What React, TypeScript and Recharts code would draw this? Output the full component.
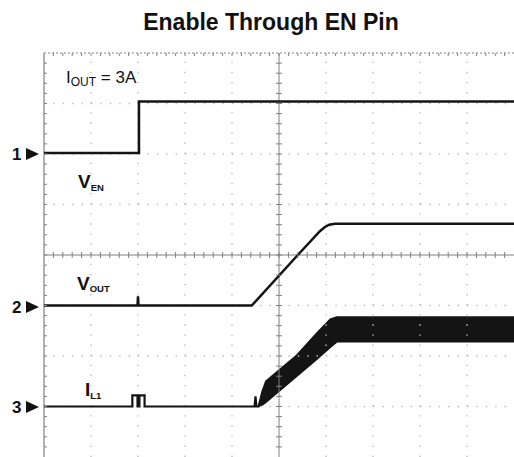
import { ComposedChart, Line, Area, Scatter, XAxis, YAxis, ReferenceLine } from 'recharts';

// scope screen: 10 x 8 divisions, x = time (div), y = volts (div)
const W = 514;
const H = 457;

// CH1 - V_EN
const enTrace = [
  { x: 0, y: 2.02 },
  { x: 2.02, y: 2.02 },
  { x: 2.02, y: 3.04 },
  { x: 10, y: 3.04 },
];

// CH2 - V_OUT
const outTrace = [
  { x: 0, y: -1 },
  { x: 1.99, y: -1 },
  { x: 2.0, y: -0.82 },
  { x: 2.01, y: -1 },
  { x: 4.42, y: -1 },
  { x: 5.4, y: 0 },
  { x: 5.87, y: 0.47 },
  { x: 5.97, y: 0.55 },
  { x: 6.07, y: 0.6 },
  { x: 6.19, y: 0.62 },
  { x: 10, y: 0.62 },
];

// CH3 - I_L1 (baseline before switching starts)
const ilTrace = [
  { x: 0, y: -3 },
  { x: 1.88, y: -3 },
  { x: 1.88, y: -2.78 },
  { x: 1.99, y: -2.78 },
  { x: 1.99, y: -3 },
  { x: 2.03, y: -3 },
  { x: 2.03, y: -2.78 },
  { x: 2.14, y: -2.78 },
  { x: 2.14, y: -3 },
  { x: 4.48, y: -3 },
  { x: 4.5, y: -2.8 },
  { x: 4.52, y: -3 },
  { x: 4.58, y: -3 },
];

// CH3 ripple envelope [low, high]
const ilBand = [
  { x: 4.56, band: [-3.0, -3.0] },
  { x: 4.64, band: [-2.97, -2.7] },
  { x: 4.72, band: [-2.92, -2.5] },
  { x: 5.38, band: [-2.4, -1.98] },
  { x: 5.8, band: [-2.07, -1.55] },
  { x: 6.09, band: [-1.83, -1.27] },
  { x: 6.23, band: [-1.72, -1.23] },
  { x: 10, band: [-1.72, -1.23] },
];

const xGrid = [1, 2, 3, 4, 6, 7, 8, 9];
const yGrid = [-3, -2, -1, 1, 2, 3];

const minorX = Array.from({ length: 49 }, (_, i) => Math.round((i + 1) * 2) / 10);
const minorY = Array.from({ length: 39 }, (_, i) => Math.round((i + 1) * 2 - 40) / 10);

const axisXTicks = minorX.map((x) => ({ x, y: 0 }));
const axisYTicks = minorY.map((y) => ({ x: 5, y }));
const topTicks = minorX.map((x) => ({ x, y: 4 }));
const leftTicks = minorY.map((y) => ({ x: 0, y }));

const GRID = '#bdbdbd';
const AXIS = '#808080';
const TRACE = '#141414';

const vTick = (len: number, dir: 'c' | 'down') => (p: any) => (
  <line
    x1={p.cx}
    x2={p.cx}
    y1={dir === 'c' ? p.cy - len : p.cy}
    y2={p.cy + len}
    stroke={AXIS}
    strokeWidth={1}
  />
);
const hTick = (len: number, dir: 'c' | 'right') => (p: any) => (
  <line
    x1={dir === 'c' ? p.cx - len : p.cx}
    x2={p.cx + len}
    y1={p.cy}
    y2={p.cy}
    stroke={AXIS}
    strokeWidth={1}
  />
);

const font = '"Liberation Sans", Arial, Helvetica, sans-serif';

export default function App() {
  return (
    <div style={{ position: 'absolute', left: 0, top: 0, width: W, height: H, background: '#fff', fontFamily: font }}>
      <ComposedChart width={W} height={H} margin={{ top: 53, right: 0, bottom: 0, left: 44 }}>
        <XAxis type="number" dataKey="x" domain={[0, 10]} hide allowDataOverflow />
        <YAxis type="number" dataKey="y" domain={[-4, 4]} hide allowDataOverflow />

        {xGrid.map((x) => (
          <ReferenceLine key={`gx${x}`} x={x} stroke={GRID} strokeWidth={1.4} strokeDasharray="1.4 8.7" />
        ))}
        {yGrid.map((y) => (
          <ReferenceLine key={`gy${y}`} y={y} stroke={GRID} strokeWidth={1.4} strokeDasharray="1.4 8" />
        ))}
        <ReferenceLine x={5} stroke={AXIS} strokeWidth={1} />
        <ReferenceLine y={0} stroke={AXIS} strokeWidth={1} />
        <ReferenceLine x={0} stroke={AXIS} strokeWidth={1.2} />
        <ReferenceLine y={4} stroke={AXIS} strokeWidth={1.2} strokeDasharray="2 2" />

        <Scatter data={axisXTicks} dataKey="y" shape={vTick(3, 'c')} isAnimationActive={false} />
        <Scatter data={axisYTicks} dataKey="y" shape={hTick(3, 'c')} isAnimationActive={false} />
        <Scatter data={topTicks} dataKey="y" shape={vTick(3, 'down')} isAnimationActive={false} />
        <Scatter data={leftTicks} dataKey="y" shape={hTick(3, 'right')} isAnimationActive={false} />

        <Area
          data={ilBand}
          dataKey="band"
          type="linear"
          stroke={TRACE}
          strokeWidth={1.5}
          fill={TRACE}
          fillOpacity={1}
          isAnimationActive={false}
        />
        <Line data={ilTrace} dataKey="y" type="linear" stroke={TRACE} strokeWidth={2.2} dot={false} isAnimationActive={false} />
        <Line data={outTrace} dataKey="y" type="linear" stroke={TRACE} strokeWidth={2.5} dot={false} isAnimationActive={false} />
        <Line data={enTrace} dataKey="y" type="linear" stroke={TRACE} strokeWidth={2.6} dot={false} isAnimationActive={false} />
      </ComposedChart>

      <svg width={W} height={H} style={{ position: 'absolute', left: 0, top: 0, pointerEvents: 'none' }}>
        <text x={271} y={30} textAnchor="middle" fontSize={23} fontWeight="bold" fill="#111" fontFamily={font}>
          Enable Through EN Pin
        </text>

        <text x={66} y={83} fontSize={17} fill="#111" fontFamily={font}>
          I
          <tspan fontSize={12} dy={3}>OUT</tspan>
          <tspan fontSize={17} dy={-3}> = 3A</tspan>
        </text>

        <text x={78} y={188} fontSize={19} fontWeight="bold" fill="#111" fontFamily={font}>
          V<tspan fontSize={9.5} dy={3}>EN</tspan>
        </text>
        <text x={77} y={290} fontSize={19} fontWeight="bold" fill="#111" fontFamily={font}>
          V<tspan fontSize={9.5} dy={2}>OUT</tspan>
        </text>
        <text x={85} y={396} fontSize={19} fontWeight="bold" fill="#111" fontFamily={font}>
          I<tspan fontSize={9.5} dy={3}>L1</tspan>
        </text>

        {[
          { n: '1', y: 154 },
          { n: '2', y: 307 },
          { n: '3', y: 407 },
        ].map((m) => (
          <g key={m.n}>
            <text x={12} y={m.y + 6} fontSize={17} fontWeight="bold" fill="#111" fontFamily={font}>
              {m.n}
            </text>
            <polygon points={`26,${m.y - 6} 39,${m.y} 26,${m.y + 6}`} fill="#111" />
          </g>
        ))}
      </svg>
    </div>
  );
}
